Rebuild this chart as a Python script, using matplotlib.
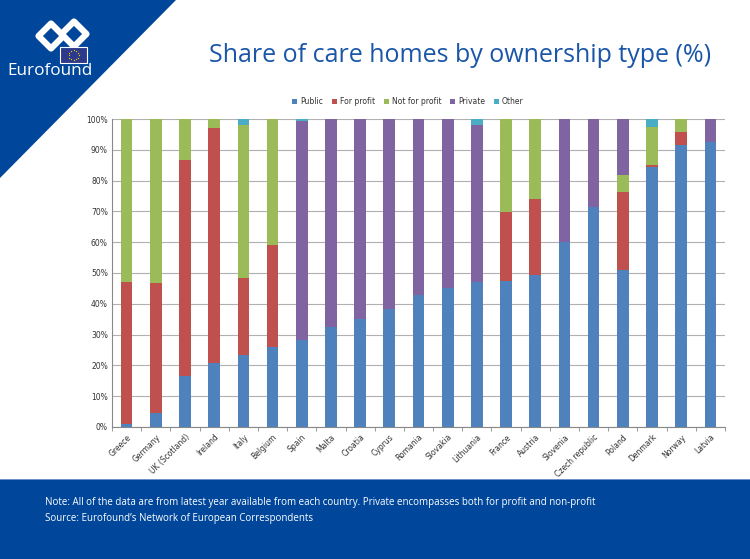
import matplotlib
matplotlib.use("Agg")
import matplotlib.pyplot as plt
from matplotlib.patches import Polygon, Rectangle
import numpy as np

countries = ["Greece", "Germany", "UK (Scotland)", "Ireland", "Italy", "Belgium", "Spain",
             "Malta", "Croatia", "Cyprus", "Romania", "Slovakia", "Lithuania", "France",
             "Austria", "Slovenia", "Czech republic", "Poland", "Denmark", "Norway", "Latvia"]
public = [0.9, 4.7, 16.7, 20.9, 23.4, 26.0, 28.4, 32.4, 35.0, 38.2, 42.8, 45.2, 47.1, 47.5,
          49.2, 60.2, 71.4, 50.9, 84.3, 91.7, 92.6]
for_profit = [46.3, 42.1, 70.1, 76.2, 25.1, 33.2, 0, 0, 0, 0, 0, 0, 0, 22.2,
              24.9, 0, 0, 25.5, 0.7, 4.2, 0]
not_for_profit = [52.8, 53.2, 13.2, 2.9, 49.5, 40.8, 0, 0, 0, 0, 0, 0, 0, 30.3,
                  25.9, 0, 0, 5.3, 12.4, 4.1, 0]
private = [0, 0, 0, 0, 0, 0, 71.1, 67.6, 65.0, 61.8, 57.2, 54.8, 50.9, 0,
           0, 39.8, 28.6, 18.3, 0, 0, 7.4]
other = [0, 0, 0, 0, 2.0, 0, 0.5, 0, 0, 0, 0, 0, 2.0, 0,
         0, 0, 0, 0, 2.6, 0, 0]
series_names = ["Public", "For profit", "Not for profit", "Private", "Other"]
yticks = [0, 10, 20, 30, 40, 50, 60, 70, 80, 90, 100]

colors = ["#4F81BD", "#C0504D", "#9BBB59", "#8064A2", "#4BACC6"]
BLUE = "#00479B"
W, H = 750, 559

fig = plt.figure(figsize=(7.5, 5.59), dpi=100)
fig.patch.set_facecolor("white")

def fx(x):
    return x / W

def fy(y):
    return 1 - y / H

# header triangle
fig.patches.append(Polygon([(0, 1), (fx(176), 1), (0, fy(178))], closed=True,
                           transform=fig.transFigure, facecolor=BLUE, edgecolor="none", zorder=0))
# bottom band
fig.patches.append(Rectangle((0, 0), 1, fy(479), transform=fig.transFigure,
                             facecolor=BLUE, edgecolor="none", zorder=0))
fig.patches.append(Rectangle((0, fy(480)), 1, 1.5 / H, transform=fig.transFigure,
                             facecolor="#6f8fc8", edgecolor="none", zorder=0))

# logo: two chain links
def diamond(cx, cy, r):
    return [(fx(cx - r), fy(cy)), (fx(cx), fy(cy - r)), (fx(cx + r), fy(cy)), (fx(cx), fy(cy + r))]

for cx, cy in ((51, 36), (74, 34)):
    fig.patches.append(Polygon(diamond(cx, cy, 12.5), closed=True, transform=fig.transFigure,
                               facecolor="none", edgecolor="white", linewidth=4.5,
                               joinstyle="round", zorder=2))
# EU flag
fig.patches.append(Rectangle((fx(60), fy(63)), fx(27), 16 / H, transform=fig.transFigure,
                             facecolor="#2d3a8c", edgecolor="white", linewidth=0.8, zorder=3))
ang = np.linspace(0, 2 * np.pi, 12, endpoint=False)
fig.lines.append(plt.Line2D([fx(73.5 + 5 * np.cos(a)) for a in ang],
                            [fy(55 + 5 * np.sin(a)) for a in ang],
                            transform=fig.transFigure, linestyle="none", marker="o",
                            markersize=0.9, markeredgewidth=0, color="#f5d000", zorder=4))
fig.text(fx(7), fy(71), "Eurofound", color="white", fontsize=12.3, family="Open Sans",
         ha="left", va="center")

# title
fig.text(fx(460), fy(55), "Share of care homes by ownership type (%)", color="#1a56a8",
         fontsize=18, family="Open Sans", ha="center", va="center")

# footer
fig.text(fx(45), fy(503), "Note: All of the data are from latest year available from each country. "
         "Private encompasses both for profit and non-profit", color="white", fontsize=7.05,
         family="Open Sans", ha="left", va="center")
fig.text(fx(45), fy(518), "Source: Eurofound\u2019s Network of European Correspondents",
         color="white", fontsize=7.05, family="Open Sans", ha="left", va="center")

ax = fig.add_axes([fx(112), fy(427), fx(725) - fx(112), (427 - 119) / H])
x = np.arange(len(countries))
bottom = np.zeros(len(countries))
data = [public, for_profit, not_for_profit, private, other]
for name, vals, c in zip(series_names, data, colors):
    ax.bar(x, vals, width=0.4, bottom=bottom, color=c, label=name, zorder=3)
    bottom += np.array(vals)

ax.set_xlim(-0.5, len(countries) - 0.5)
ax.set_ylim(0, 100)
ax.set_yticks(yticks)
ax.set_yticklabels([f"{v}%" for v in yticks], fontsize=5.5, color="#333333")
ax.set_xticks(x)
ax.set_xticklabels(countries, rotation=45, ha="right", rotation_mode="anchor",
                   fontsize=5.5, color="#333333")
ax.set_xticks(np.arange(-0.5, len(countries)), minor=True)
ax.tick_params(axis="x", which="major", length=0, pad=4)
ax.tick_params(axis="x", which="minor", length=3, color="#888888")
ax.tick_params(axis="y", length=0, pad=3)
ax.grid(axis="y", color="#b0b0b0", linewidth=0.8, zorder=0)
for s in ["top", "right"]:
    ax.spines[s].set_visible(False)
ax.spines["left"].set_color("#888888")
ax.spines["bottom"].set_color("#888888")

leg = fig.legend(loc="center", bbox_to_anchor=(fx(408), fy(102)), ncol=5, fontsize=5.5,
                 frameon=False, handlelength=0.6, handleheight=0.6, handletextpad=0.4,
                 columnspacing=1.2)
for t in leg.get_texts():
    t.set_color("#333333")

fig.savefig("out.png", dpi=100, facecolor="white")
